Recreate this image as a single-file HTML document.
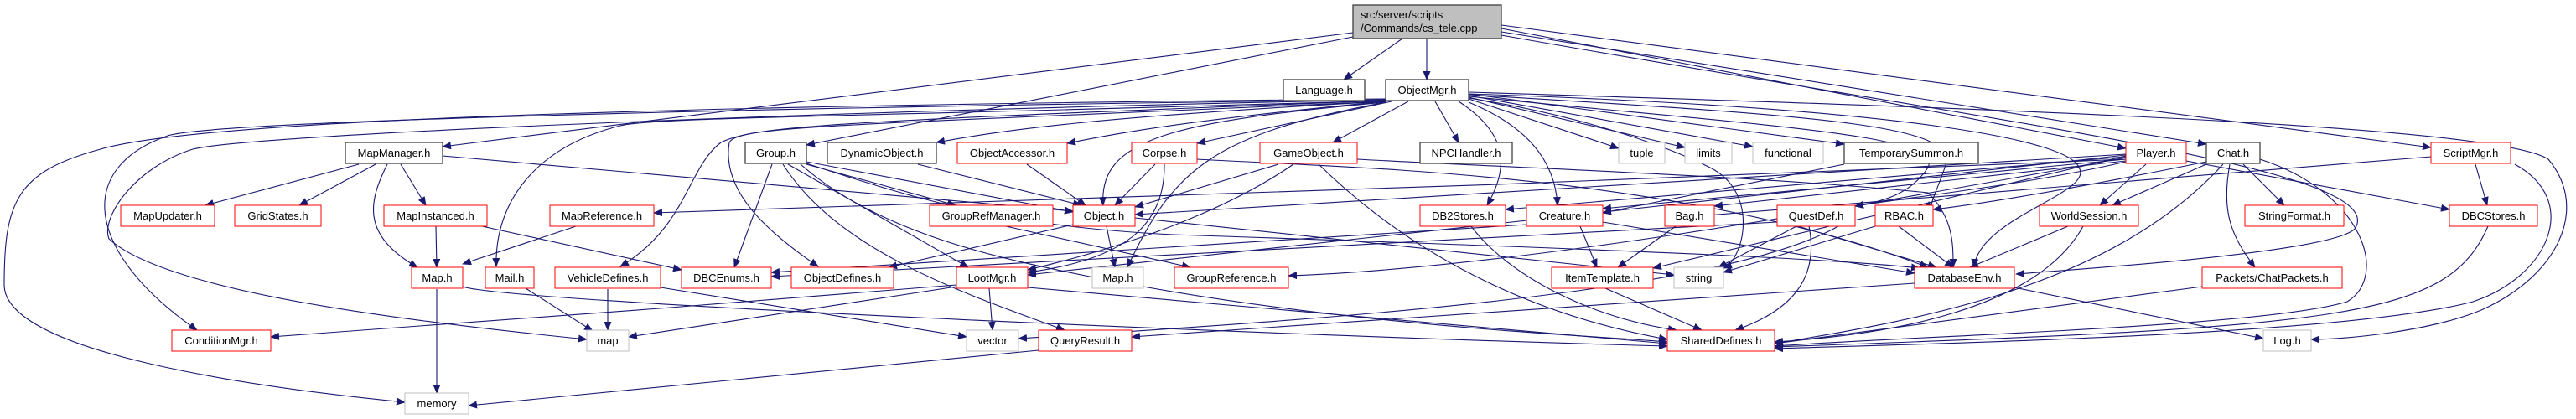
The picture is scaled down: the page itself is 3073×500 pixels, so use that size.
<!DOCTYPE html>
<html><head><meta charset="utf-8"><style>
html,body{margin:0;padding:0;background:#fff}
svg{display:block}
text{font-family:"Liberation Sans",sans-serif;font-size:13px;fill:#000;text-anchor:middle}
.e{fill:none;stroke:#191970;stroke-width:1.1;marker-end:url(#a)}
.r{fill:#fff;stroke:#ff0000;stroke-width:1}
.k{fill:#fff;stroke:#404040;stroke-width:1.3}
.g{fill:#fff;stroke:#bfbfbf;stroke-width:1}
</style></head><body>
<svg width="3073" height="500" viewBox="0 0 3073 500" xmlns="http://www.w3.org/2000/svg">
<defs><marker id="a" markerWidth="11" markerHeight="9" refX="10" refY="4.5" orient="auto" markerUnits="userSpaceOnUse"><path d="M0,0 L11,4.5 L0,9 z" fill="#191970"/></marker></defs>
<g>
<path class="e" d="M1673,46 L1603,95"/>
<path class="e" d="M1702,46 L1702,95"/>
<path class="e" d="M1614,39 L528,175"/>
<path class="e" d="M1614,44 L962,173"/>
<path class="e" d="M1791,34 L2536,177"/>
<path class="e" d="M1791,38 L2632,172"/>
<path class="e" d="M1791,30 L2900,176"/>
<path class="e" d="M1791,42 C2400,150 2850,200 2810,272 C2790,300 2500,320 2405,327"/>
<path class="e" d="M1653,118 C900,125 250,140 120,178 C20,205 5,240 5,340 C5,420 300,462 483,480"/>
<path class="e" d="M1653,119 C900,128 250,145 200,162 C90,200 100,300 235,394"/>
<path class="e" d="M1653,119 C1000,132 300,160 230,178 C160,200 120,260 130,285 C200,350 500,385 700,405"/>
<path class="e" d="M1653,120 C1000,140 780,140 740,150 C640,175 590,240 592,318"/>
<path class="e" d="M1653,120 C1000,145 900,150 860,170 C820,200 820,270 740,318"/>
<path class="e" d="M1653,121 C1000,150 880,150 870,170 C860,230 920,280 976,318"/>
<path class="e" d="M1653,121 C1300,140 1200,155 1117,170"/>
<path class="e" d="M1653,121 C1400,145 1330,160 1273,171"/>
<path class="e" d="M1660,121 L1428,171"/>
<path class="e" d="M1680,121 L1590,170"/>
<path class="e" d="M1712,121 L1740,170"/>
<path class="e" d="M1653,122 C1400,145 1310,165 1316,245"/>
<path class="e" d="M1653,122 C1450,160 1400,200 1345,319"/>
<path class="e" d="M1740,121 C1800,160 1800,200 1774,245"/>
<path class="e" d="M1752,118 L1931,177"/>
<path class="e" d="M1752,116 L2010,176"/>
<path class="e" d="M1752,114 L2091,175"/>
<path class="e" d="M1752,112 L2200,172"/>
<path class="e" d="M1752,122 C1820,150 1855,190 1858,245"/>
<path class="e" d="M1752,115 C2100,150 2320,160 2300,200 C2280,230 2250,240 2213,246"/>
<path class="e" d="M1752,113 C2200,140 2340,150 2320,200 C2310,230 2300,245 2306,250"/>
<path class="e" d="M1752,110 C2400,130 2980,150 3040,190 C3090,250 3050,330 2960,370 C2900,395 2800,405 2757,405"/>
<path class="e" d="M1752,112 C2300,130 2470,170 2480,200 C2500,230 2360,260 2355,319"/>
<path class="e" d="M1752,117 C1900,140 2000,180 2040,200 C2100,230 2080,310 2056,320"/>
<path class="e" d="M2536,188 C2200,250 1800,320 1537,329"/>
<path class="e" d="M2536,190 C2000,215 1200,240 780,254"/>
<path class="e" d="M428,196 L245,245"/>
<path class="e" d="M448,196 L357,245"/>
<path class="e" d="M478,196 L508,245"/>
<path class="e" d="M462,196 C440,240 430,280 498,319"/>
<path class="e" d="M528,186 L1280,252"/>
<path class="e" d="M520,270 L521,319"/>
<path class="e" d="M575,270 L813,322"/>
<path class="e" d="M687,270 L552,315"/>
<path class="e" d="M521,345 L521,469"/>
<path class="e" d="M552,342 C600,360 1500,400 1989,413"/>
<path class="e" d="M627,344 L707,395"/>
<path class="e" d="M725,345 L725,394"/>
<path class="e" d="M788,343 L1153,402"/>
<path class="e" d="M921,196 L876,319"/>
<path class="e" d="M962,196 L1140,245"/>
<path class="e" d="M962,193 L1280,253"/>
<path class="e" d="M940,196 L1155,319"/>
<path class="e" d="M934,196 C1000,300 1150,350 1270,394"/>
<path class="e" d="M955,196 C1050,280 1200,310 1300,330 C1600,390 1900,400 1989,408"/>
<path class="e" d="M962,195 C1100,240 1200,270 1400,280 C2000,300 2200,310 2290,320"/>
<path class="e" d="M1095,196 L1290,245"/>
<path class="e" d="M1225,196 L1295,245"/>
<path class="e" d="M1378,196 L1330,245"/>
<path class="e" d="M1389,196 C1390,270 1340,310 1226,325"/>
<path class="e" d="M1428,190 C1600,200 2000,205 2300,319"/>
<path class="e" d="M1525,196 L1354,247"/>
<path class="e" d="M1543,196 C1450,260 1320,300 1226,322"/>
<path class="e" d="M1573,196 C1700,320 1850,380 1989,405"/>
<path class="e" d="M1619,190 C1800,200 2100,210 2300,230 C2330,260 2330,290 2330,319"/>
<path class="e" d="M1200,270 L1420,319"/>
<path class="e" d="M1320,270 L1330,319"/>
<path class="e" d="M1280,268 L1060,319"/>
<path class="e" d="M1354,260 L1997,328"/>
<path class="e" d="M1180,344 L1184,394"/>
<path class="e" d="M1141,342 L750,402"/>
<path class="e" d="M1141,340 C900,360 500,390 323,402"/>
<path class="e" d="M1226,343 L1989,410"/>
<path class="e" d="M1755,270 C1800,330 1900,380 2000,394"/>
<path class="e" d="M1885,270 L1905,319"/>
<path class="e" d="M1912,265 L2284,326"/>
<path class="e" d="M1821,268 L920,325"/>
<path class="e" d="M1999,270 L1930,319"/>
<path class="e" d="M2143,270 L2050,319"/>
<path class="e" d="M2145,270 L2310,319"/>
<path class="e" d="M2158,270 C2170,330 2140,370 2070,394"/>
<path class="e" d="M2120,265 L920,330"/>
<path class="e" d="M2265,270 L2330,319"/>
<path class="e" d="M2237,270 L2056,325"/>
<path class="e" d="M2193,270 C2050,350 1600,380 1215,404"/>
<path class="e" d="M1915,344 L2030,394"/>
<path class="e" d="M2284,338 L1350,402"/>
<path class="e" d="M2403,343 L2700,404"/>
<path class="e" d="M1239,418 L559,484"/>
<path class="e" d="M2560,196 L2505,245"/>
<path class="e" d="M2608,192 L2922,250"/>
<path class="e" d="M2536,187 L1796,250"/>
<path class="e" d="M2536,190 L1912,249"/>
<path class="e" d="M2536,192 L2045,246"/>
<path class="e" d="M2536,193 C2420,220 2280,235 2213,246"/>
<path class="e" d="M2536,186 L1972,320"/>
<path class="e" d="M2536,185 L1226,328"/>
<path class="e" d="M2536,184 L1354,256"/>
<path class="e" d="M2632,196 L2520,245"/>
<path class="e" d="M2676,196 L2725,245"/>
<path class="e" d="M2660,196 C2650,250 2660,280 2690,319"/>
<path class="e" d="M2632,193 C2450,230 2350,245 2306,250"/>
<path class="e" d="M2652,196 C2520,340 2300,380 2117,410"/>
<path class="e" d="M2696,190 C2820,230 2850,330 2800,360 C2700,390 2300,400 2117,413"/>
<path class="e" d="M2467,270 L2350,319"/>
<path class="e" d="M2485,270 C2430,370 2250,400 2117,408"/>
<path class="e" d="M2627,342 L2117,410"/>
<path class="e" d="M2968,270 C2920,380 2800,390 2117,414"/>
<path class="e" d="M2953,196 L2967,245"/>
<path class="e" d="M3000,196 C3080,240 3040,330 2950,360 C2800,400 2300,410 2117,416"/>
<path class="e" d="M2900,187 L2000,260"/>
<path class="e" d="M2200,196 L1912,254"/>
</g>
<rect x="1614" y="6" width="177" height="40" fill="#bfbfbf" stroke="#404040" stroke-width="1.3"/>
<text x="1623" y="22" style="text-anchor:start">src/server/scripts</text>
<text x="1623" y="38" style="text-anchor:start">/Commands/cs_tele.cpp</text>
<rect class="k" x="1531" y="95" width="97" height="25"/><text x="1579.5" y="112">Language.h</text>
<rect class="k" x="1653" y="95" width="99" height="25"/><text x="1702.5" y="112">ObjectMgr.h</text>
<rect class="k" x="412" y="170" width="116" height="25"/><text x="470" y="187">MapManager.h</text>
<rect class="k" x="889" y="170" width="73" height="25"/><text x="925.5" y="187">Group.h</text>
<rect class="k" x="987" y="170" width="130" height="25"/><text x="1052" y="187">DynamicObject.h</text>
<rect class="r" x="1142" y="170" width="131" height="25"/><text x="1207.5" y="187">ObjectAccessor.h</text>
<rect class="r" x="1350" y="170" width="78" height="25"/><text x="1389" y="187">Corpse.h</text>
<rect class="r" x="1503" y="170" width="116" height="25"/><text x="1561" y="187">GameObject.h</text>
<rect class="k" x="1694" y="170" width="110" height="25"/><text x="1749" y="187">NPCHandler.h</text>
<rect class="g" x="1931" y="170" width="55" height="25"/><text x="1958.5" y="187">tuple</text>
<rect class="g" x="2010" y="170" width="56" height="25"/><text x="2038" y="187">limits</text>
<rect class="g" x="2091" y="170" width="84" height="25"/><text x="2133" y="187">functional</text>
<rect class="k" x="2200" y="170" width="160" height="25"/><text x="2280" y="187">TemporarySummon.h</text>
<rect class="r" x="2536" y="170" width="72" height="25"/><text x="2572" y="187">Player.h</text>
<rect class="k" x="2632" y="170" width="64" height="25"/><text x="2664" y="187">Chat.h</text>
<rect class="r" x="2900" y="170" width="95" height="25"/><text x="2947.5" y="187">ScriptMgr.h</text>
<rect class="r" x="144" y="245" width="112" height="25"/><text x="200" y="262">MapUpdater.h</text>
<rect class="r" x="280" y="245" width="103" height="25"/><text x="331.5" y="262">GridStates.h</text>
<rect class="r" x="458" y="245" width="123" height="25"/><text x="519.5" y="262">MapInstanced.h</text>
<rect class="r" x="656" y="245" width="124" height="25"/><text x="718" y="262">MapReference.h</text>
<rect class="r" x="1109" y="245" width="147" height="25"/><text x="1182.5" y="262">GroupRefManager.h</text>
<rect class="r" x="1280" y="245" width="74" height="25"/><text x="1317" y="262">Object.h</text>
<rect class="r" x="1694" y="245" width="102" height="25"/><text x="1745" y="262">DB2Stores.h</text>
<rect class="r" x="1821" y="245" width="91" height="25"/><text x="1866.5" y="262">Creature.h</text>
<rect class="r" x="1986" y="245" width="59" height="25"/><text x="2015.5" y="262">Bag.h</text>
<rect class="r" x="2120" y="245" width="93" height="25"/><text x="2166.5" y="262">QuestDef.h</text>
<rect class="r" x="2237" y="245" width="69" height="25"/><text x="2271.5" y="262">RBAC.h</text>
<rect class="r" x="2433" y="245" width="118" height="25"/><text x="2492" y="262">WorldSession.h</text>
<rect class="r" x="2678" y="245" width="118" height="25"/><text x="2737" y="262">StringFormat.h</text>
<rect class="r" x="2922" y="245" width="105" height="25"/><text x="2974.5" y="262">DBCStores.h</text>
<rect class="r" x="491" y="319" width="61" height="25"/><text x="521.5" y="336">Map.h</text>
<rect class="r" x="579" y="319" width="58" height="25"/><text x="608" y="336">Mail.h</text>
<rect class="r" x="662" y="319" width="126" height="25"/><text x="725" y="336">VehicleDefines.h</text>
<rect class="r" x="813" y="319" width="107" height="25"/><text x="866.5" y="336">DBCEnums.h</text>
<rect class="r" x="944" y="319" width="122" height="25"/><text x="1005" y="336">ObjectDefines.h</text>
<rect class="r" x="1141" y="319" width="85" height="25"/><text x="1183.5" y="336">LootMgr.h</text>
<rect class="g" x="1303" y="319" width="61" height="25"/><text x="1333.5" y="336">Map.h</text>
<rect class="r" x="1401" y="319" width="136" height="25"/><text x="1469" y="336">GroupReference.h</text>
<rect class="r" x="1851" y="319" width="121" height="25"/><text x="1911.5" y="336">ItemTemplate.h</text>
<rect class="g" x="1997" y="319" width="59" height="25"/><text x="2026.5" y="336">string</text>
<rect class="r" x="2284" y="319" width="119" height="25"/><text x="2343.5" y="336">DatabaseEnv.h</text>
<rect class="r" x="2627" y="319" width="167" height="25"/><text x="2710.5" y="336">Packets/ChatPackets.h</text>
<rect class="r" x="205" y="394" width="118" height="25"/><text x="264" y="411">ConditionMgr.h</text>
<rect class="g" x="700" y="394" width="50" height="25"/><text x="725" y="411">map</text>
<rect class="g" x="1153" y="394" width="62" height="25"/><text x="1184" y="411">vector</text>
<rect class="r" x="1239" y="394" width="111" height="25"/><text x="1294.5" y="411">QueryResult.h</text>
<rect class="r" x="1989" y="394" width="128" height="25"/><text x="2053" y="411">SharedDefines.h</text>
<rect class="g" x="2700" y="394" width="57" height="25"/><text x="2728.5" y="411">Log.h</text>
<rect class="g" x="483" y="469" width="76" height="25"/><text x="521" y="486">memory</text>
</svg>
</body></html>
